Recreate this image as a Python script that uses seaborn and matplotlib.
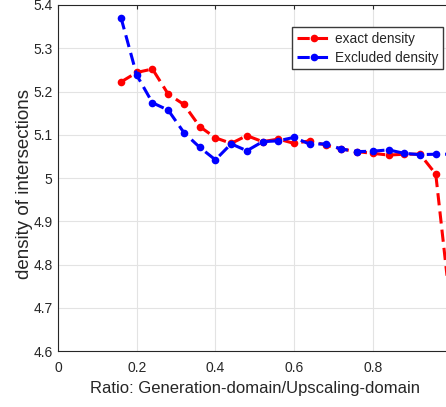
import matplotlib
matplotlib.use("Agg")
import matplotlib.pyplot as plt
import seaborn as sns
import pandas as pd

ratio = [0.16, 0.20, 0.24, 0.28, 0.32, 0.36, 0.40, 0.44, 0.48, 0.52, 0.56,
         0.60, 0.64, 0.68, 0.72, 0.76, 0.80, 0.84, 0.88, 0.92, 0.96, 1.00]
exact_density = [5.222, 5.244, 5.252, 5.194, 5.170, 5.119, 5.093, 5.080, 5.098,
                 5.084, 5.090, 5.080, 5.086, 5.076, 5.067, 5.061, 5.057, 5.053,
                 5.055, 5.055, 5.009, 4.680]
excluded_density = [5.371, 5.238, 5.174, 5.157, 5.105, 5.071, 5.042, 5.079, 5.063,
                    5.084, 5.086, 5.094, 5.078, 5.079, 5.067, 5.061, 5.062, 5.065,
                    5.057, 5.054, 5.055, 5.055]
series_names = ["exact density", "Excluded density"]
xticks = [0, 0.2, 0.4, 0.6, 0.8]
xtick_labels = ["0", "0.2", "0.4", "0.6", "0.8"]
yticks = [4.6, 4.7, 4.8, 4.9, 5.0, 5.1, 5.2, 5.3, 5.4]
ytick_labels = ["4.6", "4.7", "4.8", "4.9", "5", "5.1", "5.2", "5.3", "5.4"]

df = pd.concat([
    pd.DataFrame({"ratio": ratio, "density": exact_density, "series": series_names[0]}),
    pd.DataFrame({"ratio": ratio, "density": excluded_density, "series": series_names[1]}),
])

sns.set_style("white")
plt.rcParams["font.family"] = ["Liberation Sans", "DejaVu Sans"]

fig = plt.figure(figsize=(4.46, 4.07), dpi=100)
ax = fig.add_axes([58 / 446, 1 - 351 / 407, (451.5 - 58) / 446, 346 / 407])

sns.lineplot(data=df, x="ratio", y="density", hue="series",
             palette={series_names[0]: "#ff0000", series_names[1]: "#0000ff"},
             marker="o", markersize=5.5, markeredgewidth=0, linewidth=2.2,
             dashes=False, ax=ax, sort=False, estimator=None)
for line in ax.get_lines():
    line.set_linestyle((0, (4, 2)))

ax.set_xlim(0, 1)
ax.set_ylim(4.6, 5.4)
ax.set_xticks(xticks)
ax.set_xticklabels(xtick_labels)
ax.set_yticks(yticks)
ax.set_yticklabels(ytick_labels)
ax.grid(True, color="#e3e3e3", linewidth=0.8)
ax.set_axisbelow(True)
for s in ax.spines.values():
    s.set_color("#262626")
    s.set_linewidth(0.8)
ax.tick_params(direction="in", length=3, color="#262626", labelsize=10,
               labelcolor="#262626", top=True, right=True)
ax.tick_params(axis="x", pad=7.5)
ax.tick_params(axis="y", pad=4)
ax.set_xlabel("Ratio: Generation-domain/Upscaling-domain", fontsize=12, color="#262626", labelpad=4)
ax.set_ylabel("density of intersections", fontsize=13.5, color="#262626")
ax.yaxis.set_label_coords(-(58 - 33) / 393.5, 0.483)

handles, labels = ax.get_legend_handles_labels()
for h in handles:
    h.set_linestyle((0, (4, 2)))
leg = ax.legend(handles, labels, loc="upper left", bbox_to_anchor=((292 - 58) / 393.5, 1 - 22 / 346),
                fontsize=9.8, frameon=True, fancybox=False, framealpha=1,
                edgecolor="#3a3a3a", handlelength=2.6, borderpad=0.35,
                labelspacing=0.35, handletextpad=0.2, borderaxespad=0)
leg.get_frame().set_linewidth(1.0)

fig.savefig("out.png", dpi=100)
